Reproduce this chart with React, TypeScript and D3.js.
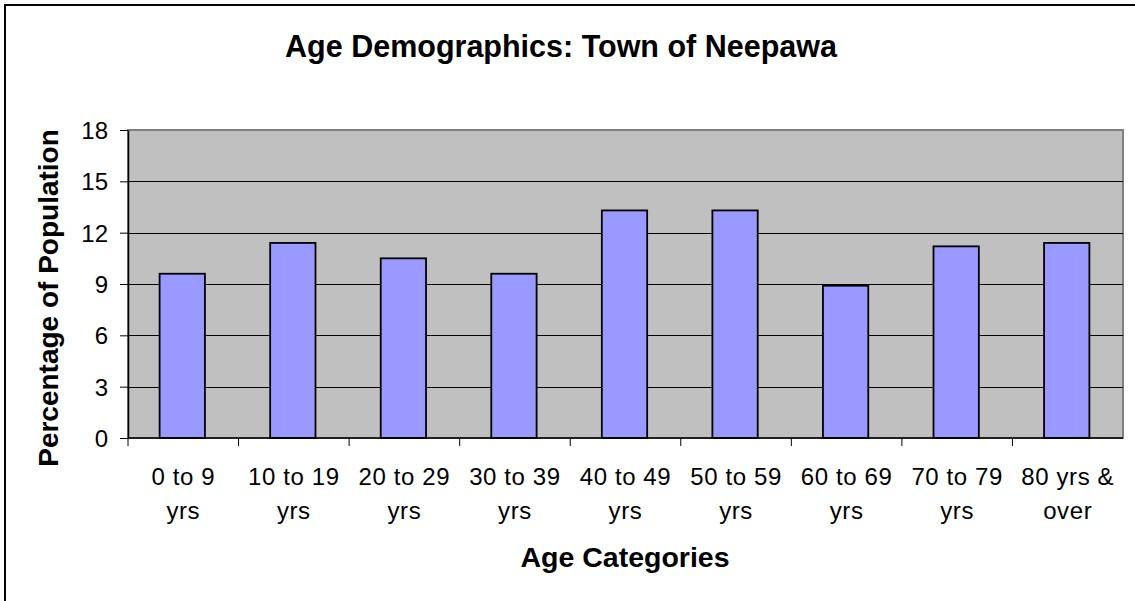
import React, { useEffect, useRef } from 'react';
import * as d3 from 'd3';

const categories = [
  '0 to 9 yrs',
  '10 to 19 yrs',
  '20 to 29 yrs',
  '30 to 39 yrs',
  '40 to 49 yrs',
  '50 to 59 yrs',
  '60 to 69 yrs',
  '70 to 79 yrs',
  '80 yrs & over',
];
// two-line tick labels as they wrap in the original
const tickLines = [
  ['0 to 9', 'yrs'],
  ['10 to 19', 'yrs'],
  ['20 to 29', 'yrs'],
  ['30 to 39', 'yrs'],
  ['40 to 49', 'yrs'],
  ['50 to 59', 'yrs'],
  ['60 to 69', 'yrs'],
  ['70 to 79', 'yrs'],
  ['80 yrs &', 'over'],
];
const percentages = [9.6, 11.4, 10.5, 9.6, 13.3, 13.3, 8.9, 11.2, 11.4];
const yTicks = [0, 3, 6, 9, 12, 15, 18];

const width = 1135;
const height = 601;
const font = '"Liberation Sans", Arial, sans-serif';

const App = () => {
  const svgRef = useRef<SVGSVGElement>(null);

  useEffect(() => {
    const svg = d3.select(svgRef.current);
    svg.selectAll('*').remove();

    // plot area bounds
    const margin = { top: 130, right: 12, bottom: 163, left: 128 };
    const x0 = margin.left;
    const x1 = width - margin.right;
    const y0 = margin.top;
    const y1 = height - margin.bottom;

    const xScale = d3.scaleBand().domain(categories).range([x0, x1]).padding(0);
    const yScale = d3.scaleLinear().domain([0, 18]).range([y1, y0]);

    // outer frame (right and bottom edges fall outside the picture)
    svg.append('rect')
      .attr('x', 5).attr('y', 5)
      .attr('width', width + 10).attr('height', height + 10)
      .attr('fill', 'white')
      .attr('stroke', 'black')
      .attr('stroke-width', 2);

    // plot background
    svg.append('rect')
      .attr('x', x0).attr('y', y0)
      .attr('width', x1 - x0).attr('height', y1 - y0)
      .attr('fill', '#C0C0C0')
      .attr('stroke', '#808080')
      .attr('stroke-width', 2);

    // grid lines
    svg.selectAll('.grid-line')
      .data(yTicks.filter(d => d > 0 && d < 18))
      .enter().append('line')
      .attr('class', 'grid-line')
      .attr('x1', x0).attr('x2', x1)
      .attr('y1', d => Math.round(yScale(d)) + 0.5)
      .attr('y2', d => Math.round(yScale(d)) + 0.5)
      .attr('stroke', 'black')
      .attr('stroke-width', 1);

    // bars
    const barW = xScale.bandwidth() * 0.41;
    svg.selectAll('.bar')
      .data(percentages)
      .enter().append('rect')
      .attr('class', 'bar')
      .attr('x', (d, i) => (xScale(categories[i]) as number) + xScale.bandwidth() / 2 - barW / 2 - 1)
      .attr('y', d => yScale(d))
      .attr('width', barW)
      .attr('height', d => y1 - yScale(d))
      .attr('fill', '#9999FF')
      .attr('stroke', 'black')
      .attr('stroke-width', 1.8);

    // y axis
    const yAxis = svg.append('g')
      .attr('transform', `translate(${x0}, 0)`)
      .call(d3.axisLeft(yScale).tickValues(yTicks).tickSize(8).tickPadding(12).tickSizeOuter(0));
    yAxis.select('.domain').attr('stroke', 'black').attr('stroke-width', 1.5);
    yAxis.selectAll('line').attr('stroke', 'black');
    yAxis.selectAll('text')
      .style('font-family', font)
      .style('font-size', '24px')
      .attr('fill', 'black')
      .attr('dy', '0.36em');

    // x axis: ticks at band boundaries
    const boundaries = categories.map(c => xScale(c) as number).concat([x1]);
    svg.append('line')
      .attr('x1', x0).attr('x2', x1)
      .attr('y1', y1).attr('y2', y1)
      .attr('stroke', 'black')
      .attr('stroke-width', 1.5);
    svg.selectAll('.x-tick')
      .data(boundaries.slice(0, -1))
      .enter().append('line')
      .attr('class', 'x-tick')
      .attr('x1', d => d).attr('x2', d => d)
      .attr('y1', y1).attr('y2', y1 + 8)
      .attr('stroke', 'black');

    const labels = svg.selectAll('.x-label')
      .data(tickLines)
      .enter().append('text')
      .attr('class', 'x-label')
      .attr('text-anchor', 'middle')
      .style('font-family', font)
      .style('font-size', '24px')
      .style('letter-spacing', '0.6px')
      .attr('fill', 'black');
    labels.each(function (lines, i) {
      const cx = (xScale(categories[i]) as number) + xScale.bandwidth() / 2;
      d3.select(this).selectAll('tspan')
        .data(lines)
        .enter().append('tspan')
        .attr('x', cx)
        .attr('y', (d, j) => 485 + j * 34)
        .text(d => d);
    });

    // title
    svg.append('text')
      .attr('x', 561).attr('y', 57)
      .attr('text-anchor', 'middle')
      .style('font-family', font)
      .style('font-size', '30.5px')
      .style('font-weight', 'bold')
      .text('Age Demographics: Town of Neepawa');

    // axis titles
    svg.append('text')
      .attr('transform', `translate(58, ${(y0 + y1) / 2 + 14}) rotate(-90)`)
      .attr('text-anchor', 'middle')
      .style('font-family', font)
      .style('font-size', '28px')
      .style('font-weight', 'bold')
      .text('Percentage of Population');

    svg.append('text')
      .attr('x', 625).attr('y', 567)
      .attr('text-anchor', 'middle')
      .style('font-family', font)
      .style('font-size', '28.5px')
      .style('font-weight', 'bold')
      .text('Age Categories');
  }, []);

  return (
    <svg
      ref={svgRef}
      width={width}
      height={height}
      style={{ position: 'absolute', left: 0, top: 0, background: 'white' }}
    />
  );
};

export default App;
